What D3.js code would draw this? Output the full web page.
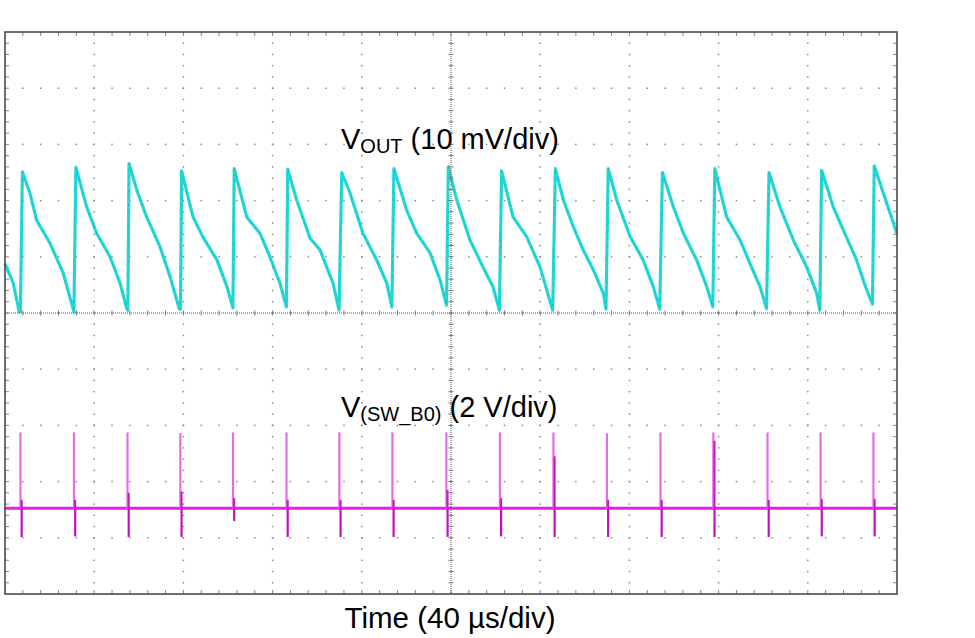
<!DOCTYPE html>
<html>
<head>
<meta charset="utf-8">
<script src="https://cdn.jsdelivr.net/npm/d3@7"></script>
<style>
  html, body { margin: 0; padding: 0; background: #fff; }
  svg { display: block; }
  text { font-family: "Liberation Sans", Arial, sans-serif; fill: #000; }
</style>
</head>
<body>
<svg id="chart" width="975" height="638"></svg>
<script>
// ---------------- DATA ----------------
// Time axis: 40 us/div, 10 divisions
const timeRange = [0, 400];           // us
const timePerDiv = 40;                // us/div
const divisions = 10;
const minorPerDiv = 5;

// VOUT trace (AC ripple, mV, 10 mV/div) – time in us
const voutTime = [
  0, 3.7, 6.4, 6.9, 7.8, 11.2, 14.2, 20.2, 26.1, 30.9,
  31.8, 36.6, 41.1, 47.1, 51.6, 54.6, 55.1, 55.6, 59.1, 63.5,
  69.5, 74.0, 78.2, 78.7, 79.2, 84.3, 88.8, 95.1, 99.6, 102.2,
  102.8, 108.4, 114.3, 118.8, 123.3, 126.2, 126.8, 130.8, 136.8, 141.3,
  147.1, 149.8, 151.0, 154.7, 160.5, 166.7, 171.2, 173.5, 174.4, 180.1,
  184.6, 190.6, 195.1, 198.0, 198.8, 202.6, 208.5, 214.3, 218.8, 221.7,
  222.7, 227.8, 233.9, 239.9, 245.6, 246.8, 250.4, 254.8, 259.3, 263.8,
  268.3, 269.5, 270.5, 274.3, 280.3, 286.2, 290.7, 293.6, 294.8, 299.7,
  304.2, 310.2, 314.7, 317.4, 318.3, 323.6, 329.6, 334.1, 338.6, 341.5,
  342.6, 347.5, 353.5, 359.5, 364.0, 365.4, 366.2, 371.4, 375.9, 381.9,
  386.4, 389.0, 389.8, 393.9, 399.9
];
const voutMv = [
  8.8, 5.3, 0.2, 0.3, 25.1, 21.3, 16.5, 12.4, 7.1, 0.2,
  25.9, 18.9, 14.2, 10.0, 5.3, 0.8, 0.5, 26.6, 21.9, 17.1,
  11.8, 6.5, 0.7, 0.7, 25.3, 17.1, 13.5, 9.4, 4.6, 0.9,
  25.7, 17.1, 14.2, 10.0, 5.3, 1.1, 25.6, 20.1, 13.3, 11.2,
  5.3, 0.5, 25.0, 21.4, 14.2, 9.4, 5.3, 1.1, 25.7, 18.3,
  14.2, 10.7, 5.9, 1.4, 26.0, 20.1, 13.0, 8.2, 4.7, 0.5,
  25.3, 17.1, 13.6, 8.2, 0.5, 25.7, 20.1, 15.4, 11.2, 7.7,
  3.5, 0.7, 25.7, 20.1, 13.6, 9.4, 4.7, 0.7, 25.0, 18.9,
  14.2, 9.4, 4.7, 1.1, 25.7, 17.1, 13.0, 8.8, 4.7, 0.8,
  25.0, 18.9, 13.0, 8.2, 3.5, 0.5, 25.4, 18.9, 14.8, 9.4,
  4.1, 1.6, 26.2, 21.3, 14.2
];

// V(SW_B0) trace (V, 2 V/div): baseline with one spike per switching cycle
const swBaseline = 0;
const spikeTime = [7.2, 31.2, 55.2, 78.9, 102.5, 126.5, 150.2, 174.0, 198.2, 222.2,
                   246.2, 270.2, 294.2, 317.9, 342.2, 366.0, 389.7];
const spikeHigh = [2.7, 2.7, 2.7, 2.68, 2.7, 2.7, 2.7, 2.7, 2.7, 2.7,
                   2.7, 2.67, 2.7, 2.7, 2.7, 2.7, 2.7];
const spikeLow  = [-1.02, -1.0, -1.02, -1.02, -0.45, -1.02, -1.02, -1.02, -1.02, -1.0,
                   -1.02, -1.02, -1.02, -1.02, -1.02, -1.0, -1.0];
const spikeRing = [0.3, 0.3, 0.55, 0.6, 0.36, 0.3, 0.3, 0.3, 0.65, 0.36,
                   1.85, 0.3, 0.3, 2.4, 0.3, 0.33, 0.33];

const labelVout = { main: "V", sub: "OUT", rest: " (10 mV/div)" };
const labelSw   = { main: "V", sub: "(SW_B0)", rest: " (2 V/div)" };
const labelTime = "Time (40 µs/div)";

// ---------------- CHART ----------------
const svg = d3.select("#chart");
const L = 5, R = 897, T = 32, B = 594;

const x = d3.scaleLinear().domain(timeRange).range([L, R]);
const yDiv = d3.scaleLinear().domain([-5, 5]).range([B, T]);
const yVout = d3.scaleLinear().domain([-50, 50]).range([B, T]);     // 10 mV/div
const ySw = d3.scaleLinear().domain([-3.05, 16.95]).range([B, T]); // 2 V/div

const grid = svg.append("g");
const minorX = d3.range(0, divisions * minorPerDiv + 1).map(i => i * timePerDiv / minorPerDiv);
const minorY = d3.range(0, divisions * minorPerDiv + 1).map(i => -5 + i / minorPerDiv);
const majorX = d3.range(1, divisions).map(i => i * timePerDiv).filter(t => t !== 200);
const majorY = d3.range(-4, 5).filter(d => d !== 0);

// dotted grid rows
majorY.forEach(d => {
  grid.selectAll(null).data(minorX.slice(1, -1)).join("rect")
    .attr("x", t => x(t) - 0.75).attr("y", yDiv(d) - 0.75)
    .attr("width", 1.5).attr("height", 1.5).attr("fill", "#8a8a8a");
});
// dotted grid columns
majorX.forEach(t => {
  grid.selectAll(null).data(minorY.slice(1, -1)).join("rect")
    .attr("x", x(t) - 0.75).attr("y", d => yDiv(d) - 0.75)
    .attr("width", 1.5).attr("height", 1.5).attr("fill", "#8a8a8a");
});

// border ticks
grid.selectAll(null).data(minorX.slice(1, -1)).join("line")
  .attr("x1", t => x(t)).attr("x2", t => x(t)).attr("y1", T).attr("y2", T + 4)
  .attr("stroke", "#888").attr("stroke-width", 1);
grid.selectAll(null).data(minorX.slice(1, -1)).join("line")
  .attr("x1", t => x(t)).attr("x2", t => x(t)).attr("y1", B).attr("y2", B - 4)
  .attr("stroke", "#888").attr("stroke-width", 1);
grid.selectAll(null).data(minorY.slice(1, -1)).join("line")
  .attr("x1", L).attr("x2", L + 4).attr("y1", d => yDiv(d)).attr("y2", d => yDiv(d))
  .attr("stroke", "#888").attr("stroke-width", 1);
grid.selectAll(null).data(minorY.slice(1, -1)).join("line")
  .attr("x1", R).attr("x2", R - 4).attr("y1", d => yDiv(d)).attr("y2", d => yDiv(d))
  .attr("stroke", "#888").attr("stroke-width", 1);

// ---- traces ----
const traces = svg.append("g");
const voutLine = d3.line().x((d, i) => x(voutTime[i])).y(d => yVout(d));
traces.append("path").datum(voutMv)
  .attr("d", voutLine).attr("fill", "none")
  .attr("stroke", "#24d8d8").attr("stroke-width", 3.2).attr("stroke-linejoin", "round");
traces.append("path").datum(voutMv)
  .attr("d", voutLine).attr("fill", "none")
  .attr("stroke", "#139c9c").attr("stroke-width", 0.7).attr("stroke-opacity", 0.5)
  .attr("stroke-dasharray", "3,4");

// SW baseline
traces.append("line")
  .attr("x1", x(timeRange[0])).attr("x2", x(timeRange[1]))
  .attr("y1", ySw(swBaseline)).attr("y2", ySw(swBaseline))
  .attr("stroke", "#e422e4").attr("stroke-width", 3);
// spikes up
traces.selectAll(null).data(spikeTime).join("line")
  .attr("x1", t => x(t) - 0.6).attr("x2", t => x(t) - 0.6)
  .attr("y1", ySw(swBaseline)).attr("y2", (t, i) => ySw(spikeHigh[i]))
  .attr("stroke", "#e66ce6").attr("stroke-width", 2.2);
// ringing
traces.selectAll(null).data(spikeTime).join("line")
  .attr("x1", t => x(t) + 0.6).attr("x2", t => x(t) + 0.6)
  .attr("y1", ySw(swBaseline)).attr("y2", (t, i) => ySw(spikeRing[i]))
  .attr("stroke", "#c614c6").attr("stroke-width", 2);
// spikes down
traces.selectAll(null).data(spikeTime).join("line")
  .attr("x1", t => x(t) + 0.6).attr("x2", t => x(t) + 0.6)
  .attr("y1", ySw(swBaseline)).attr("y2", (t, i) => ySw(spikeLow[i]))
  .attr("stroke", "#c010c0").attr("stroke-width", 2.2);

// ---- centre cross lines (over traces) ----
const centre = svg.append("g");
centre.append("line")
  .attr("x1", L).attr("x2", R).attr("y1", yDiv(0)).attr("y2", yDiv(0))
  .attr("stroke", "#555").attr("stroke-width", 1).attr("stroke-dasharray", "1,1");
centre.append("line")
  .attr("x1", x(200)).attr("x2", x(200)).attr("y1", T).attr("y2", B)
  .attr("stroke", "#555").attr("stroke-width", 1).attr("stroke-dasharray", "1,1");
centre.selectAll(null).data(minorX.slice(1, -1)).join("line")
  .attr("x1", t => x(t)).attr("x2", t => x(t))
  .attr("y1", yDiv(0) - 2.5).attr("y2", yDiv(0) + 2.5)
  .attr("stroke", "#777").attr("stroke-width", 1);
centre.selectAll(null).data(minorY.slice(1, -1)).join("line")
  .attr("x1", x(200) - 2.5).attr("x2", x(200) + 2.5)
  .attr("y1", d => yDiv(d)).attr("y2", d => yDiv(d))
  .attr("stroke", "#777").attr("stroke-width", 1);

// frame
svg.append("rect")
  .attr("x", L).attr("y", T).attr("width", R - L).attr("height", B - T)
  .attr("fill", "none").attr("stroke", "#4a4a4a").attr("stroke-width", 1.6);

// ---- labels ----
function channelLabel(lbl, xPos, yPos) {
  const t = svg.append("text").attr("x", xPos).attr("y", yPos).attr("font-size", 29);
  t.append("tspan").text(lbl.main);
  t.append("tspan").attr("font-size", 20).attr("dy", 4).text(lbl.sub);
  t.append("tspan").attr("dy", -4).text(lbl.rest);
}
channelLabel(labelVout, 341, 149);
channelLabel(labelSw, 341, 417);

svg.append("text").attr("x", 450).attr("y", 628)
  .attr("text-anchor", "middle").attr("font-size", 29.5).text(labelTime);
</script>
</body>
</html>
